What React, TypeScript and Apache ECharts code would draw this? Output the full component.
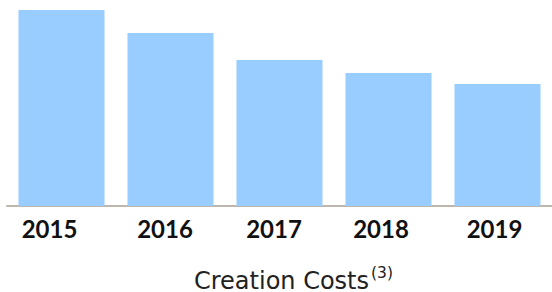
import React, { useEffect, useRef } from "react";
import * as echarts from "echarts";

const categories = ["2015", "2016", "2017", "2018", "2019"];
const costValues = [196, 173, 146, 133, 122];
const titleMain = "Creation Costs";
const titleNote = "(3)";
// horizontal nudge (px to the left) of each category label, as in the reference
const labelShift = [12, 5.5, 5.5, 7.5, 3];

export default function App() {
  const ref = useRef<HTMLDivElement>(null);
  useEffect(() => {
    if (!ref.current) return;
    const chart = echarts.init(ref.current, null, { renderer: "svg" });
    const labelRich: Record<string, any> = {};
    labelShift.forEach((s, i) => {
      labelRich["l" + i] = {
        fontFamily: "Lato",
        fontWeight: "bold",
        fontSize: 24,
        color: "#111111",
        padding: [0, s * 2, 0, 0],
      };
    });
    chart.setOption({
      animation: false,
      backgroundColor: "#ffffff",
      graphic: [
        {
          type: "text",
          x: 194,
          y: 280.5,
          style: {
            text: titleMain,
            fontFamily: "DejaVu Sans",
            fontSize: 24,
            fill: "#222222",
            align: "left",
            verticalAlign: "middle",
          },
        },
        {
          type: "text",
          x: 393,
          y: 272.5,
          style: {
            text: titleNote,
            fontFamily: "DejaVu Sans",
            fontSize: 15.5,
            fill: "#222222",
            align: "right",
            verticalAlign: "middle",
          },
        },
      ],
      grid: { left: 7, right: 0, top: 10, bottom: 86, containLabel: false },
      xAxis: {
        type: "category",
        data: categories,
        axisTick: { show: false },
        axisLine: { show: true, lineStyle: { color: "#bfb7ae", width: 2 } },
        axisLabel: {
          margin: 10,
          formatter: (v: string) => {
            const i = categories.indexOf(v);
            return `{l${i}|${v}}`;
          },
          rich: labelRich,
        },
      },
      yAxis: {
        type: "value",
        min: 0,
        max: 196,
        show: false,
        splitLine: { show: false },
      },
      series: [
        {
          type: "bar",
          data: costValues,
          barWidth: 86,
          itemStyle: { color: "#99ccff" },
        },
      ],
    });
    return () => chart.dispose();
  }, []);
  return <div ref={ref} style={{ position: "fixed", left: 0, top: 0, width: 552, height: 292 }} />;
}
